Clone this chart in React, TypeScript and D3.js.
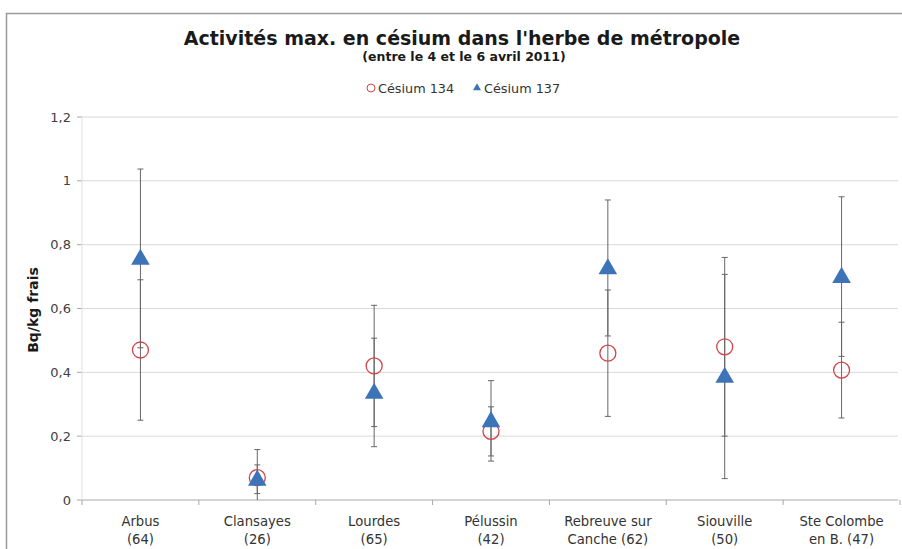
import React from "react";
import * as d3 from "d3";

const categories = [
  ["Arbus", "(64)"],
  ["Clansayes", "(26)"],
  ["Lourdes", "(65)"],
  ["Pélussin", "(42)"],
  ["Rebreuve sur", "Canche (62)"],
  ["Siouville", "(50)"],
  ["Ste Colombe", "en B. (47)"],
];
const cs134 = [0.47, 0.07, 0.42, 0.215, 0.46, 0.48, 0.407];
const cs134Err = [0.22, 0.088, 0.19, 0.077, 0.198, 0.28, 0.15];
const cs137 = [0.757, 0.065, 0.337, 0.248, 0.727, 0.387, 0.7];
const cs137Err = [0.28, 0.045, 0.17, 0.126, 0.213, 0.32, 0.25];
const yTicks = [0, 0.2, 0.4, 0.6, 0.8, 1, 1.2];

const W = 902;
const H = 549;
const FONT = "'DejaVu Sans', Verdana, sans-serif";

export default function App() {
  const left = 82, right = 900, top = 117, bottom = 500;
  const x = d3.scaleBand<number>().domain(d3.range(categories.length)).range([left, right]);
  const y = d3.scaleLinear().domain([0, 1.2]).range([bottom, top]);
  const cx = (i: number) => (x(i) as number) + x.bandwidth() / 2;
  const fmt = (v: number) => (v === 0 || v === 1 ? String(v) : v.toFixed(1).replace(".", ","));
  const tri = d3.symbol().type(d3.symbolTriangle).size(150)();
  const boundaries = d3.range(categories.length + 1).map((i) => left + i * x.bandwidth());

  const errBar = (i: number, v: number, e: number, key: string) => {
    const x0 = cx(i);
    const y1 = y(v + e);
    const y2 = y(v - e);
    return (
      <g key={key} stroke="#666" strokeWidth={1}>
        <line x1={x0} x2={x0} y1={y1} y2={y2} />
        <line x1={x0 - 3} x2={x0 + 3} y1={y1} y2={y1} />
        <line x1={x0 - 3} x2={x0 + 3} y1={y2} y2={y2} />
      </g>
    );
  };

  return (
    <svg width={W} height={H} style={{ position: "absolute", left: 0, top: 0, background: "#fff" }} fontFamily={FONT}>
      <defs>
        <clipPath id="plot">
          <rect x={left} y={top - 20} width={right - left} height={bottom - top + 20} />
        </clipPath>
      </defs>
      <rect x={6.5} y={13.5} width={W + 10} height={H + 10} fill="#fff" stroke="#9a9a9a" strokeWidth={1.5} />
      <text x={462} y={45} textAnchor="middle" fontSize={19} fontWeight="bold" fill="#1a1a1a">
        Activités max. en césium dans l'herbe de métropole
      </text>
      <text x={464} y={61} textAnchor="middle" fontSize={12.5} fontWeight="bold" fill="#1a1a1a">
        (entre le 4 et le 6 avril 2011)
      </text>
      {/* legend */}
      <circle cx={371} cy={88} r={4} fill="none" stroke="#d0444a" strokeWidth={1} />
      <text x={378} y={92.5} fontSize={12.8} fill="#333">Césium 134</text>
      <path d={d3.symbol().type(d3.symbolTriangle).size(28)() as string} transform={`translate(477,88)`} fill="#3d74b8" />
      <text x={484} y={92.5} fontSize={12.8} fill="#333">Césium 137</text>

      {/* grid */}
      {yTicks.map((t) => (
        <g key={t}>
          <line x1={left} x2={898} y1={y(t)} y2={y(t)} stroke={t === 0 ? "#a8a8a8" : "#d9d9d9"} strokeWidth={1} />
          <line x1={left - 5} x2={left} y1={y(t)} y2={y(t)} stroke="#a8a8a8" />
          <text x={71} y={y(t) + 4.5} textAnchor="end" fontSize={13} fill="#404040">{fmt(t)}</text>
        </g>
      ))}
      <line x1={left} x2={left} y1={top} y2={bottom} stroke="#e0e0e0" />
      {boundaries.map((b, i) => (
        <line key={i} x1={b} x2={b} y1={bottom} y2={bottom + 5} stroke="#a8a8a8" />
      ))}
      <text transform={`translate(38,310) rotate(-90)`} textAnchor="middle" fontSize={14} fontWeight="bold" fill="#1a1a1a">
        Bq/kg frais
      </text>
      {categories.map((c, i) => (
        <g key={i}>
          <text x={cx(i)} y={526} textAnchor="middle" fontSize={13.2} fill="#333">{c[0]}</text>
          <text x={cx(i)} y={544} textAnchor="middle" fontSize={13.2} fill="#333">{c[1]}</text>
        </g>
      ))}

      <g clipPath="url(#plot)">
        {cs134.map((v, i) => errBar(i, v, cs134Err[i], "e134" + i))}
        {cs137.map((v, i) => errBar(i, v, cs137Err[i], "e137" + i))}
        {cs134.map((v, i) => (
          <circle key={"c" + i} cx={cx(i)} cy={y(v)} r={8} fill="none" stroke="#d0444a" strokeWidth={1.3} />
        ))}
        {cs137.map((v, i) => (
          <path key={"t" + i} d={tri as string} transform={`translate(${cx(i)},${y(v) + 1})`} fill="#3d74b8" />
        ))}
      </g>
    </svg>
  );
}
